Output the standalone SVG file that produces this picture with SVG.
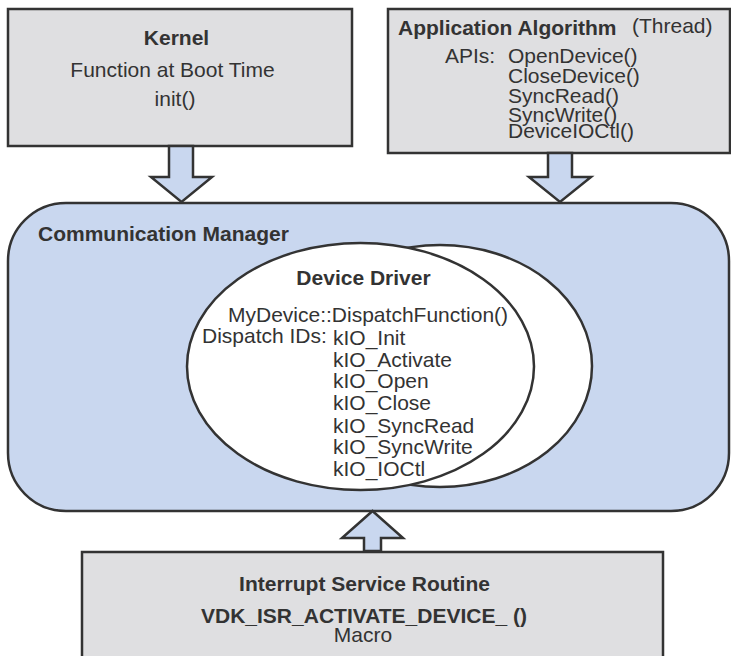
<svg xmlns="http://www.w3.org/2000/svg" width="731" height="656" viewBox="0 0 731 656">
<style>
.box{fill:#dfdfe1;stroke:#333;stroke-width:2.5}
.mgr{fill:#c9d7ef;stroke:#333;stroke-width:2.5}
.ell{fill:#fff;stroke:#333;stroke-width:2.5}
.arr{fill:#c9d7ef;stroke:#333;stroke-width:2.5;stroke-linejoin:miter}
text{font-family:"Liberation Sans",Arial,Helvetica,sans-serif;font-size:21px;fill:#333}
.b{font-weight:bold}
.m{text-anchor:middle}
</style>
<rect width="731" height="656" fill="#fff"/>
<g id="communication-manager">
<rect class="mgr" x="8" y="203" width="721" height="308" rx="58" ry="58"/>
<text class="b" x="38" y="241">Communication Manager</text>
</g>
<g id="device-driver">
<ellipse class="ell" cx="440" cy="366" rx="152" ry="121"/>
<ellipse class="ell" cx="360.5" cy="366.5" rx="173.5" ry="123.5"/>
<text class="b m" x="363.5" y="285">Device Driver</text>
<text x="228" y="322">MyDevice::DispatchFunction()</text>
<text x="202" y="343">Dispatch IDs:</text>
<text x="333" y="345">kIO_Init</text>
<text x="333" y="367">kIO_Activate</text>
<text x="333" y="388">kIO_Open</text>
<text x="333" y="410">kIO_Close</text>
<text x="333" y="433">kIO_SyncRead</text>
<text x="333" y="454">kIO_SyncWrite</text>
<text x="333" y="476">kIO_IOCtl</text>
</g>
<g id="kernel">
<rect class="box" x="8" y="9" width="344" height="137"/>
<text class="b m" x="176.5" y="45">Kernel</text>
<text class="m" x="172.5" y="77">Function at Boot Time</text>
<text class="m" x="175" y="106">init()</text>
</g>
<g id="application-algorithm">
<rect class="box" x="388" y="9" width="342" height="144"/>
<text class="b" x="398" y="35">Application Algorithm</text>
<text x="632" y="33">(Thread)</text>
<text x="445" y="63">APIs:</text>
<text x="508" y="63">OpenDevice()</text>
<text x="508" y="83">CloseDevice()</text>
<text x="508" y="103">SyncRead()</text>
<text x="508" y="122">SyncWrite()</text>
<text x="508" y="138">DeviceIOCtl()</text>
</g>
<g id="interrupt-service-routine">
<rect class="box" x="82" y="552" width="581" height="130"/>
<text class="b m" x="364.5" y="591">Interrupt Service Routine</text>
<text class="b m" x="364" y="623">VDK_ISR_ACTIVATE_DEVICE_ ()</text>
<text class="m" x="363" y="642">Macro</text>
</g>
<g id="connectors">
<polygon class="arr" points="169,146 193,146 193,177 212,177 181.5,202 151,177 169,177"/>
<polygon class="arr" points="548,153 572,153 572,177 591,177 560,202 529,177 548,177"/>
<polygon class="arr" points="364,551 381,551 381,538 403,538 372.5,511 342,538 364,538"/>
</g>
</svg>
